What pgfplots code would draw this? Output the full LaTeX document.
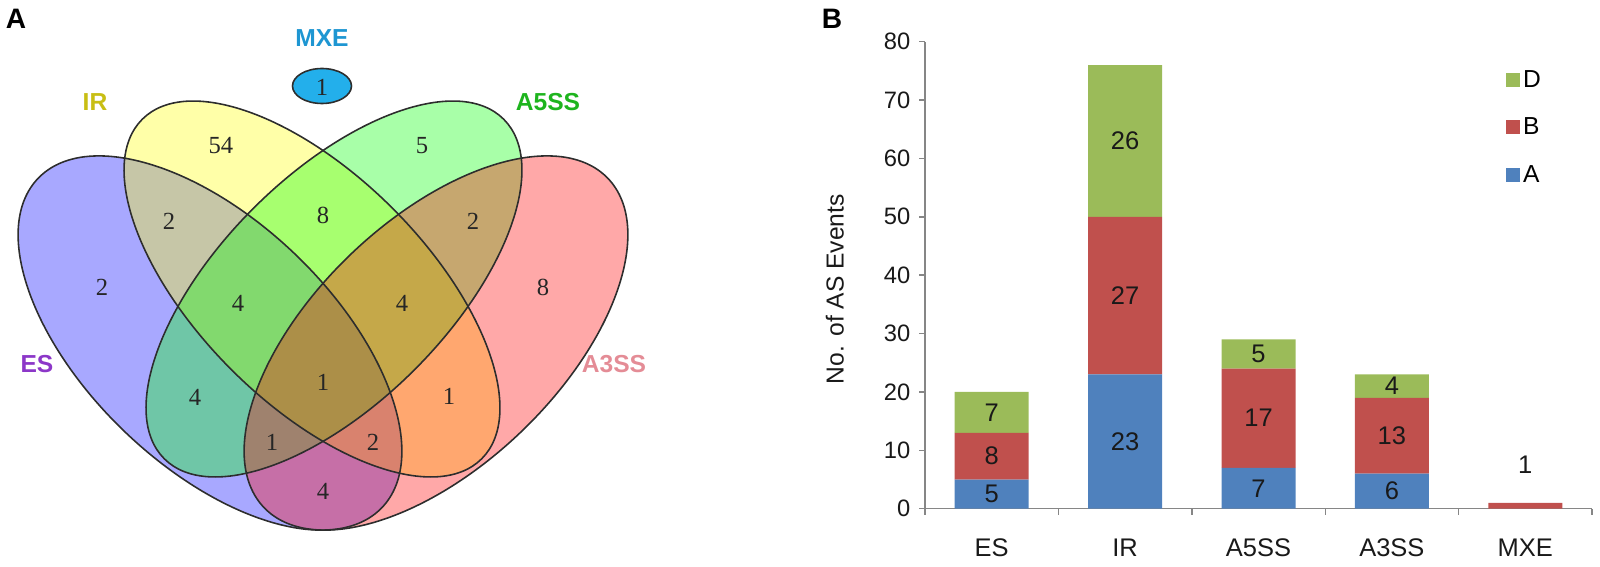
\documentclass[border=0pt]{standalone}
\usepackage{fontspec}
\setmainfont{Liberation Sans}
\newfontfamily\vennfont{Liberation Serif}
\usepackage{pgfplots}
\usepackage{pgfplotstable}
\pgfplotsset{compat=1.18}

\definecolor{esc}{RGB}{0,0,255}
\definecolor{irc}{RGB}{255,255,0}
\definecolor{a5c}{RGB}{0,255,0}
\definecolor{a3c}{RGB}{255,0,0}
\definecolor{eslab}{RGB}{140,55,200}
\definecolor{irlab}{RGB}{200,190,20}
\definecolor{a5lab}{RGB}{30,180,30}
\definecolor{a3lab}{RGB}{228,140,150}
\definecolor{mxelab}{RGB}{30,150,210}
\definecolor{mxefill}{RGB}{35,175,235}
\definecolor{vennedge}{RGB}{45,45,45}
\definecolor{barA}{RGB}{79,129,189}
\definecolor{barB}{RGB}{192,80,77}
\definecolor{barD}{RGB}{155,187,89}
\definecolor{axgray}{RGB}{134,134,134}
\definecolor{txt}{RGB}{25,25,25}

\tikzset{
  vnum/.style={font=\vennfont\fontsize{14}{16}\selectfont, text=black!85},
  vlab/.style={font=\bfseries\fontsize{14}{16}\selectfont},
  bval/.style={font=\fontsize{14.5}{16}\selectfont, text=txt},
}
\pgfplotsset{
  barframe/.style={at={(18.5cm,1.166cm)}, anchor=south west,
    width=13.34cm, height=9.34cm, scale only axis,
    xmin=0.5, xmax=5.5, ymin=0, ymax=80},
}

% stacked counts per event type
\pgfplotstableread{
x A B D
1 5 8 7
2 23 27 26
3 7 17 5
4 6 13 4
5 0 1 0
}\events

% cx cy angle a b (pixels of the 660x567 panel)
\newcommand{\vennfill}[6]{\fill[#6, fill opacity=0.34, rotate around={#3:(axis cs:#1,#2)}] (axis cs:#1,#2) ellipse [x radius=#4*0.02cm, y radius=#5*0.02cm];}
\newcommand{\vennedge}[5]{\draw[vennedge, line width=0.9pt, rotate around={#3:(axis cs:#1,#2)}] (axis cs:#1,#2) ellipse [x radius=#4*0.02cm, y radius=#5*0.02cm];}

\begin{document}
\begin{tikzpicture}
\useasboundingbox (0,0) rectangle (32cm,11.34cm);

% ---- A: Venn diagram
\begin{axis}[
    at={(0,0)}, anchor=south west,
    width=13.2cm, height=11.34cm, scale only axis,
    xmin=0, xmax=660, ymin=0, ymax=567, y dir=reverse,
    hide axis, clip=false,
]
\addplot[draw=none] coordinates {(0,0) (660,567)};
\vennfill{210}{343}{-43.75}{238}{123}{esc}
\vennfill{312}{289}{-45}{240}{114}{irc}
\vennfill{334}{289}{45}{240}{114}{a5c}
\vennfill{436}{343}{43.75}{238}{123}{a3c}
\vennedge{210}{343}{-43.75}{238}{123}
\vennedge{312}{289}{-45}{240}{114}
\vennedge{334}{289}{45}{240}{114}
\vennedge{436}{343}{43.75}{238}{123}
\draw[vennedge, fill=mxefill, line width=0.9pt] (axis cs:322,86) ellipse [x radius=0.59cm, y radius=0.35cm];

\node[vnum] at (axis cs:322,87) {1};
\node[vnum] at (axis cs:221,146) {54};
\node[vnum] at (axis cs:422,146) {5};
\node[vnum] at (axis cs:169,221) {2};
\node[vnum] at (axis cs:323,215) {8};
\node[vnum] at (axis cs:473,221) {2};
\node[vnum] at (axis cs:102,287) {2};
\node[vnum] at (axis cs:543,287) {8};
\node[vnum] at (axis cs:238,303) {4};
\node[vnum] at (axis cs:402,303) {4};
\node[vnum] at (axis cs:195,397) {4};
\node[vnum] at (axis cs:323,382) {1};
\node[vnum] at (axis cs:449,396) {1};
\node[vnum] at (axis cs:272,442) {1};
\node[vnum] at (axis cs:373,442) {2};
\node[vnum] at (axis cs:323,491) {4};

\node[vlab, text=mxelab] at (axis cs:322,38) {MXE};
\node[vlab, text=irlab] at (axis cs:95,102) {IR};
\node[vlab, text=a5lab] at (axis cs:548,102) {A5SS};
\node[vlab, text=eslab] at (axis cs:37,364) {ES};
\node[vlab, text=a3lab] at (axis cs:614,364) {A3SS};
\node[font=\bfseries\fontsize{16}{18}\selectfont] at (axis cs:16,19) {A};
\end{axis}

\node[font=\bfseries\fontsize{16}{18}\selectfont] at (16.64cm,10.96cm) {B};

% ---- B: stacked bars
\begin{axis}[
    barframe,
    ybar stacked, bar width=1.48cm,
    axis x line*=bottom, axis y line*=left,
    axis line style={axgray, line width=0.8pt},
    tick align=outside, major tick length=0.12cm,
    tick style={axgray, line width=0.8pt},
    ytick={0,10,...,80},
    xtick={0.5,1.5,...,5.5}, xticklabels={,,,,,},
    extra x ticks={1,2,3,4,5},
    extra x tick labels={ES,IR,A5SS,A3SS,MXE},
    extra x tick style={major tick length=0pt,
        xticklabel style={font=\fontsize{14.5}{16}\selectfont, text=txt, yshift=-0.48cm}},
    /pgf/number format/assume math mode=true,
    yticklabel style={font=\fontsize{13.5}{15}\selectfont, text=txt, xshift=-0.05cm},
    ylabel={No. of AS Events},
    every axis y label/.style={at={(axis description cs:-0.135,0.47)}, rotate=90, anchor=center,
        font=\fontsize{14}{16}\selectfont, text=txt},
    legend style={at={(axis description cs:0.862,0.955)}, anchor=north west,
        draw=none, fill=none, font=\fontsize{14}{16}\selectfont,
        row sep=0.42cm, /tikz/every even column/.append style={column sep=0.08cm}},
    legend cell align=left,
    reverse legend,
]
\addplot[fill=barA, draw=none,
    legend image code/.code={\fill[barA] (0cm,-0.14cm) rectangle (0.28cm,0.14cm);}]
    table[x=x, y=A] {\events};
\addplot[fill=barB, draw=none,
    legend image code/.code={\fill[barB] (0cm,-0.14cm) rectangle (0.28cm,0.14cm);}]
    table[x=x, y=B] {\events};
\addplot[fill=barD, draw=none,
    legend image code/.code={\fill[barD] (0cm,-0.14cm) rectangle (0.28cm,0.14cm);}]
    table[x=x, y=D] {\events};
\legend{A,B,D}
\end{axis}

% value labels, drawn over the bars in the same frame
\begin{axis}[barframe, hide axis, clip=false]
\addplot[draw=none] coordinates {(1,0) (5,1)};
\node[bval] at (axis cs:1,2.5) {5};
\node[bval] at (axis cs:1,9) {8};
\node[bval] at (axis cs:1,16.5) {7};
\node[bval] at (axis cs:2,11.5) {23};
\node[bval] at (axis cs:2,36.5) {27};
\node[bval] at (axis cs:2,63) {26};
\node[bval] at (axis cs:3,3.5) {7};
\node[bval] at (axis cs:3,15.5) {17};
\node[bval] at (axis cs:3,26.5) {5};
\node[bval] at (axis cs:4,3) {6};
\node[bval] at (axis cs:4,12.5) {13};
\node[bval] at (axis cs:4,21) {4};
\node[bval] at (axis cs:5,7.5) {1};
\end{axis}
\end{tikzpicture}
\end{document}
